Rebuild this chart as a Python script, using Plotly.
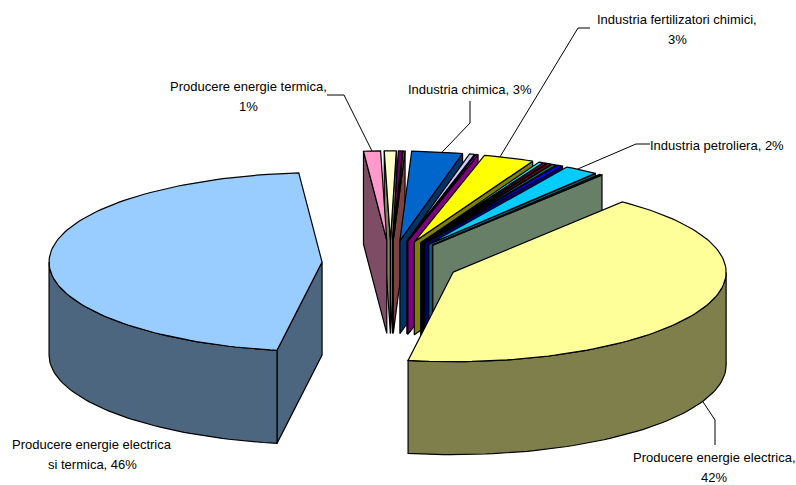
import math
import plotly.graph_objects as go

# Slices clockwise from the top of the pie: share in percent and face colour
slice_values = [0.7, 0.25, 0.1, 3, 0.3, 0.03, 0.12, 3, 0.25, 0.2, 0.25, 0.25, 0.35, 2, 0.1, 0.1, 42, 46, 1]
slice_colors = ["#FFFFCC", "#660066", "#FF8080", "#0066CC", "#CCCCFF", "#000080", "#FF00FF", "#FFFF00",
                "#00FFFF", "#800080", "#800000", "#008080", "#0000FF", "#00CCFF", "#CCFFFF", "#CCFFCC",
                "#FFFF99", "#99CCFF", "#FF99CC"]

# Labelled slices: index into the lists above, text lines, centre of the text block
label_slices = [3, 7, 13, 16, 17, 18]
label_texts = [["Industria chimica, {}%"], ["Industria fertilizatori chimici,", "{}%"], ["Industria petroliera, {}%"],
               ["Producere energie electrica,", "{}%"], ["Producere energie electrica", "si termica, {}%"],
               ["Producere energie termica,", "{}%"]]
label_centres = [(470, 89), (677, 29), (717, 145), (714, 467), (92, 454), (248, 96)]
LINE_GAP = 20
# Where each leader line leaves its text, then its elbow; it ends on the slice rim
leader_paths = [[(470, 101), (470, 123)], [(590, 28), (578, 28)], [(650, 144), (636, 144)],
                [(715, 445), (715, 420)], None, [(327, 95), (344, 95)]]
leader_rim_angle_shift = [1, -2, -1, 0, 0, 0]

# Projection of the exploded pie
CX, CY = 390.5, 263.0
RX, RY = 273.0, 89.5
DEPTH = 93.0
EXPLODE_X, EXPLODE_Y = 68.5, 22.6
START_ANGLE = -1.3


def shade(colour):
    r, g, b = (int(colour[i:i + 2], 16) // 2 for i in (1, 3, 5))
    return f"#{r:02X}{g:02X}{b:02X}"


def rim(apex, angle):
    a = math.radians(angle)
    return apex[0] + RX * math.sin(a), apex[1] - RY * math.cos(a)


def arc(apex, a0, a1):
    steps = max(2, int(abs(a1 - a0) / 1.5) + 1)
    return [rim(apex, a0 + (a1 - a0) * i / steps) for i in range(steps + 1)]


def drop(points):
    return [(x, y + DEPTH) for x, y in points]


fig = go.Figure()


def polygon(points, colour):
    xs = [p[0] for p in points] + [points[0][0]]
    ys = [p[1] for p in points] + [points[0][1]]
    fig.add_trace(go.Scatter(x=xs, y=ys, mode="lines", fill="toself", fillcolor=colour,
                             line=dict(color="black", width=1.2), hoverinfo="skip", showlegend=False))


slices = []
angle = START_ANGLE
total = sum(slice_values)
for value, colour in zip(slice_values, slice_colors):
    sweep = value / total * 360.0
    mid = math.radians(angle + sweep / 2)
    apex = (CX + EXPLODE_X * math.sin(mid), CY - EXPLODE_Y * math.cos(mid))
    slices.append(dict(a0=angle, a1=angle + sweep, apex=apex, colour=colour))
    angle += sweep


def back_distance(s):
    m = ((s["a0"] + s["a1"]) / 2) % 360
    return min(m, 360 - m)


# Painter's order: slices at the back of the pie first
for s in sorted(slices, key=back_distance):
    a0, a1, apex, colour = s["a0"], s["a1"], s["apex"], s["colour"]
    dark = shade(colour)
    if math.sin(math.radians(a0)) < 0:
        tip = rim(apex, a0)
        polygon([apex, tip] + drop([tip, apex]), dark)
    if math.sin(math.radians(a1)) > 0:
        tip = rim(apex, a1)
        polygon([apex, tip] + drop([tip, apex]), dark)
    lo, hi = max(a0, 90.0), min(a1, 270.0)
    if lo < hi:
        edge = arc(apex, lo, hi)
        polygon(edge + drop(edge)[::-1], dark)
    polygon([apex] + arc(apex, a0, a1), colour)

# Leader lines and text labels
for idx, lines, centre, path, shift in zip(label_slices, label_texts, label_centres, leader_paths,
                                           leader_rim_angle_shift):
    s = slices[idx]
    mid = (s["a0"] + s["a1"]) / 2 + shift
    if path:
        end = rim(s["apex"], mid)
        if idx == 16:
            end = (end[0], end[1] + DEPTH)
        pts = path + [end]
        fig.add_trace(go.Scatter(x=[p[0] for p in pts], y=[p[1] for p in pts], mode="lines",
                                 line=dict(color="black", width=1), hoverinfo="skip", showlegend=False))
    first_y = centre[1] - LINE_GAP * (len(lines) - 1) / 2
    for n, line in enumerate(lines):
        fig.add_annotation(x=centre[0], y=first_y + n * LINE_GAP, text=line.format(slice_values[idx]),
                           showarrow=False, xanchor="center", yanchor="middle", align="center",
                           font=dict(family="Liberation Sans, sans-serif", size=13, color="black"))

fig.update_layout(width=796, height=485, margin=dict(l=0, r=0, t=0, b=0), paper_bgcolor="white",
                  plot_bgcolor="white",
                  xaxis=dict(range=[0, 796], visible=False, fixedrange=True),
                  yaxis=dict(range=[485, 0], visible=False, fixedrange=True))
fig.write_html("out.html")
